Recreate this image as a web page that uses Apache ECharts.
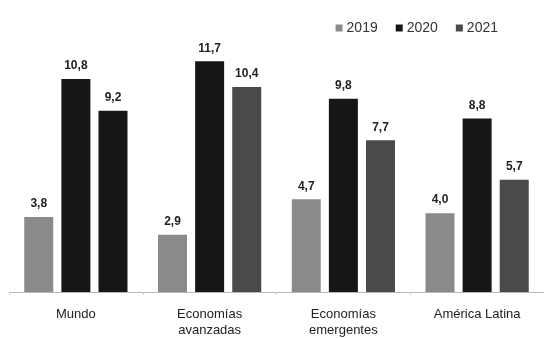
<!DOCTYPE html>
<html><head><meta charset="utf-8">
<script src="https://cdn.jsdelivr.net/npm/echarts@6/dist/echarts.min.js"></script>
<style>html,body{margin:0;padding:0;background:#fff}#c{width:544px;height:338px}</style>
</head><body><div id="c"></div>
<script>
const categories = ['Mundo', 'Economías\navanzadas', 'Economías\nemergentes', 'América Latina'];
const seriesNames = ['2019', '2020', '2021'];
const values2019 = [3.8, 2.9, 4.7, 4.0];
const values2020 = [10.8, 11.7, 9.8, 8.8];
const values2021 = [9.2, 10.4, 7.7, 5.7];
const colors = ['#8a8a8a', '#161616', '#4a4a4a'];

const chart = echarts.init(document.getElementById('c'), null, {renderer: 'canvas'});
const fmt = p => p.value.toFixed(1).replace('.', ',');
const lbl = {show: true, position: 'top', distance: 7, formatter: fmt, fontFamily: 'Liberation Sans, Arial, sans-serif', fontWeight: 'bold', fontSize: 12, color: '#222'};
const all = [values2019, values2020, values2021];
chart.setOption({
  animation: false,
  grid: {left: 9, right: 0, top: 16, bottom: 46},
  legend: {
    right: 41, top: 16, itemWidth: 7, itemHeight: 7, itemGap: 18,
    icon: 'rect',
    textStyle: {fontFamily: 'Liberation Sans, Arial, sans-serif', fontSize: 14, color: '#333', padding: [0,0,0,-1]},
    data: seriesNames
  },
  xAxis: {
    type: 'category', data: categories,
    axisLine: {lineStyle: {color: '#bbb'}},
    axisTick: {show: true, length: 3, lineStyle: {color: '#ccc'}},
    axisLabel: {fontFamily: 'Liberation Sans, Arial, sans-serif', fontSize: 13, color: '#222', lineHeight: 16, margin: 14, interval: 0}
  },
  yAxis: {type: 'value', min: 0, max: 14, show: false, splitLine: {show: false}},
  series: seriesNames.map((n, i) => ({
    name: n, type: 'bar', barWidth: 29, barGap: '28%',
    itemStyle: {color: colors[i]},
    label: lbl,
    data: all[i].map((v, j) => (i === 2 && j === 0) ? {value: v, itemStyle: {color: '#161616'}} : v)
  }))
});
</script></body></html>
